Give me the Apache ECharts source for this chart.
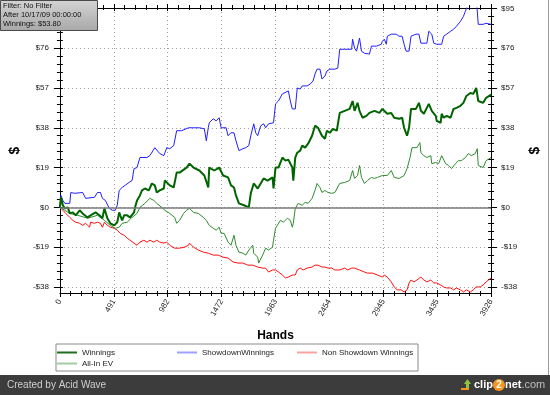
<!DOCTYPE html>
<html><head><meta charset="utf-8">
<script src="https://cdn.jsdelivr.net/npm/echarts@6/dist/echarts.min.js"></script>
<style>html,body{margin:0;padding:0;background:#fff}#c{width:550px;height:395px}</style>
</head><body><div id="c"></div>
<script>
// ---------- data (hands, dollars) ----------
const seriesNames = ['Winnings', 'ShowdownWinnings', 'Non Showdown Winnings', 'All-In EV'];
const xMax = 3926;
const yTickValues = [-38, -19, 0, 19, 38, 57, 76, 95];

const winHands = [0,9,27,45,72,90,117,144,180,207,252,279,297,324,360,387,405,432,459,495,522,540,549,567,585,612,639,675,684,702,729,747,774,810,837,864,882,909,946,955,973,1000,1036,1063,1090,1153,1180,1216,1270,1315,1351,1360,1405,1450,1486,1531,1558,1585,1603,1630,1675,1720,1738,1765,1801,1828,1855,1891,1936,1945,1963,1990,2026,2053,2080,2116,2125,2143,2161,2188,2206,2233,2260,2296,2323,2350,2386,2413,2431,2458,2485,2521,2548,2593,2638,2665,2683,2710,2728,2755,2791,2818,2864,2909,2936,2954,2981,3017,3044,3089,3116,3134,3161,3179,3197,3242,3269,3287,3314,3359,3377,3386,3422,3431,3467,3476,3494,3521,3557,3584,3611,3647,3674,3701,3737,3764,3791,3809,3827,3854,3881,3926];
const winValues = [0,4.8,1.0,-0.5,0,-2.9,-2.4,-3.8,-1.4,-2.9,-4.8,-3.8,-2.9,-2.4,-3.8,-5.2,-0.5,-5.2,-7.6,-8.6,-7.1,-2.4,-3.8,-6.2,-3.8,-3.8,-4.8,-2.4,0,3.3,5.7,8.1,9.0,8.1,11.4,10.5,7.1,8.1,9.0,12.8,12.8,10.5,9.5,16.6,16.6,19.0,20.9,19.0,17.6,15.2,9.5,19.0,17.6,19.0,15.2,14.3,10.5,9.5,5.7,1.9,1.0,0,6.7,11.4,9.0,11.4,13.8,12.8,14.3,9.0,19.0,19.0,23.8,22.3,22.8,19.0,12.8,23.8,26.1,27.1,29.5,28.5,30.4,34.2,39.0,38.0,34.2,32.8,36.6,35.6,37.5,36.6,45.1,46.1,47.0,50.8,46.1,49.9,46.1,42.8,43.7,45.1,46.1,45.1,47.0,47.0,44.7,45.1,42.8,42.3,42.8,38.0,34.2,38.0,47.0,47.0,49.9,46.1,44.7,49.4,49.9,46.1,43.7,41.3,40.4,44.7,42.8,43.7,42.8,47.0,47.5,48.5,49.9,53.2,54.6,54.2,57.0,50.8,49.9,49.9,52.3,53.8];

const sdHands = [0,9,27,45,90,99,135,207,234,252,315,342,369,387,414,450,477,504,522,540,567,594,630,657,675,702,729,792,819,864,882,909,946,973,1000,1036,1063,1108,1171,1216,1270,1315,1333,1351,1360,1396,1423,1450,1468,1513,1531,1558,1585,1603,1630,1666,1693,1720,1738,1765,1783,1801,1828,1855,1873,1900,1945,1963,1990,2026,2080,2098,2116,2143,2161,2188,2206,2251,2278,2305,2323,2341,2368,2386,2413,2431,2458,2503,2530,2548,2593,2656,2665,2683,2701,2728,2746,2773,2818,2837,2882,2927,2936,2954,2972,2981,3017,3062,3089,3116,3134,3152,3179,3197,3242,3269,3287,3341,3359,3386,3404,3431,3476,3494,3521,3557,3584,3611,3647,3674,3692,3719,3737,3791,3809,3854,3881,3926];
const sdValues = [0,5.7,3.3,1.9,1.9,7.1,6.7,7.1,4.3,4.8,4.8,7.1,7.1,4.3,3.3,-0.5,-1.4,-1.4,1.0,8.1,9.5,10.5,11.9,12.8,18.5,19.0,23.8,23.8,24.7,28.5,28.5,25.7,24.7,28.5,28.0,29.5,36.6,36.6,38.0,38.0,38.0,37.5,31.8,38.0,40.4,42.3,41.3,42.8,38.0,38.0,34.2,35.6,35.6,31.8,27.1,28.0,28.5,29.5,34.2,39.9,35.6,34.2,38.9,39.9,38.0,39.9,40.4,49.4,50.8,54.2,55.6,50.8,47.0,47.0,57.0,56.5,58.0,58.0,58.9,60.3,63.7,66.0,66.0,61.3,62.7,65.1,66.0,66.0,66.5,75.5,75.5,75.5,80.3,76.0,74.6,80.8,74.6,73.6,73.2,77.0,77.0,77.9,79.3,80.3,77.9,81.7,82.7,82.7,81.7,81.7,77.9,74.6,74.6,81.7,82.7,82.7,78.4,78.4,84.1,82.7,78.4,77.9,77.9,81.7,82.7,84.1,85.0,86.5,88.8,91.2,93.6,97.4,100.7,100.7,87.4,87.4,87.9,87.4];

const nsdHands = [0,27,54,90,117,144,180,207,234,270,279,315,342,369,387,405,432,459,495,522,549,585,612,639,675,702,729,765,792,819,855,882,909,946,973,1000,1045,1090,1135,1171,1180,1216,1261,1306,1351,1396,1441,1486,1531,1576,1621,1666,1711,1756,1801,1846,1873,1900,1936,1963,1990,2026,2053,2080,2116,2143,2161,2188,2215,2251,2296,2323,2350,2386,2413,2440,2476,2503,2548,2593,2620,2656,2683,2728,2773,2800,2846,2891,2936,2954,2981,3017,3044,3071,3107,3134,3161,3179,3197,3224,3251,3287,3314,3341,3377,3404,3431,3467,3494,3521,3557,3584,3611,3647,3674,3701,3737,3764,3791,3827,3854,3881,3926];
const nsdValues = [0,-1.4,-2.9,-4.8,-6.2,-7.1,-7.6,-8.6,-7.6,-9.5,-7.1,-7.6,-7.1,-7.6,-9.5,-7.1,-8.6,-9.5,-10.0,-10.9,-12.4,-13.3,-14.7,-15.7,-17.1,-18.1,-16.6,-15.7,-16.6,-15.7,-16.6,-15.7,-16.6,-17.1,-16.6,-18.1,-19.5,-19.5,-19.0,-18.1,-17.1,-19.0,-20.4,-21.4,-21.9,-22.8,-22.8,-23.8,-24.2,-26.1,-26.6,-26.6,-27.6,-27.6,-28.5,-29.0,-29.0,-30.9,-29.9,-29.9,-30.9,-32.3,-33.7,-33.3,-32.3,-32.3,-29.9,-29.0,-29.9,-29.0,-28.5,-27.6,-27.6,-28.5,-28.5,-29.0,-29.0,-29.9,-29.9,-29.0,-29.9,-29.0,-29.0,-29.9,-30.9,-31.4,-31.4,-32.3,-33.3,-32.3,-33.3,-35.6,-38.0,-39.4,-39.4,-40.4,-39.4,-36.1,-34.7,-35.6,-34.7,-33.3,-34.7,-35.6,-34.7,-36.1,-36.1,-37.1,-38.0,-38.5,-38.5,-39.4,-38.5,-39.4,-40.4,-39.4,-40.4,-39.4,-38.0,-38.0,-37.1,-35.6,-33.7];

const evHands = [0,45,90,162,252,342,405,459,504,540,567,612,657,702,729,774,819,855,882,927,955,1000,1045,1063,1090,1126,1153,1180,1216,1261,1306,1333,1360,1396,1423,1450,1468,1495,1531,1558,1585,1603,1630,1666,1693,1720,1756,1765,1801,1810,1846,1873,1900,1936,1945,1963,2008,2035,2071,2098,2116,2125,2143,2170,2206,2233,2260,2296,2323,2341,2368,2386,2413,2440,2476,2503,2548,2593,2638,2665,2683,2710,2728,2746,2773,2800,2837,2864,2891,2936,2981,3017,3044,3089,3134,3161,3188,3206,3251,3278,3287,3314,3341,3377,3386,3422,3449,3476,3512,3539,3566,3602,3629,3656,3692,3719,3746,3782,3800,3809,3854,3881,3926];
const evValues = [0,-1.4,-2.9,-3.8,-5.2,-3.8,-6.2,-8.6,-10.0,-9.5,-7.6,-7.1,-4.8,-2.9,0,1.9,4.3,3.3,1.9,0,-1.4,-2.9,-4.8,-7.6,-6.2,-2.9,-1.4,-0.5,-2.4,-2.9,-4.8,-6.2,-8.6,-10.0,-10.9,-9.5,-12.4,-12.4,-16.6,-18.1,-13.3,-18.1,-21.4,-21.9,-22.8,-20.4,-18.1,-21.9,-23.8,-26.6,-22.8,-19.5,-20.4,-19.0,-15.7,-10.0,-6.2,-7.1,-5.2,-6.2,-9.5,-7.6,-0.5,1.9,1.0,2.4,1.9,4.3,8.1,11.4,9.5,7.1,8.1,7.1,6.7,7.1,11.4,11.9,12.8,17.6,13.8,15.2,20.0,14.3,11.4,12.8,14.3,13.8,14.3,15.2,15.2,17.6,14.3,13.8,15.2,18.5,23.8,28.5,28.5,30.9,26.1,24.7,23.8,24.7,20.9,21.4,20.9,24.7,20.9,20.0,18.5,20.9,22.3,22.3,23.8,25.7,24.7,25.7,28.0,20.0,19.0,22.3,23.8];

// ---------- chart ----------
const FONT = 'Liberation Sans, Arial, sans-serif';
const yMin = -40.9, yMax = 95.2, xInterval = xMax / 8;
const minorStep = 19 / 5;
const yMinor = [];
for (let k = -10; k <= 25; k++) { if (k % 5 !== 0) yMinor.push(+(k * minorStep).toFixed(2)); }
const yAll = yMinor.concat(yTickValues);
const pairs = (h, v) => h.map((x, i) => [x, v[i]]);
const money = v => (v < 0 ? '-$' + Math.abs(v) : '$' + v);

function xAx(pos, inside, main) {
  return {
    type: 'value', min: 0, max: xMax, interval: xInterval, position: pos,
    axisLine: { show: main, onZero: false, lineStyle: { color: '#000', width: 1 } },
    axisTick: { show: true, inside: inside, length: inside ? 3 : 4, lineStyle: { color: '#000' } },
    minorTick: { show: true, splitNumber: 5, length: inside ? 2 : 3, lineStyle: { color: '#000' } },
    splitLine: { show: main && pos === 'bottom', lineStyle: { color: '#9a9a9a', type: [1, 3] } },
    axisLabel: (main && pos === 'bottom') ? {
      show: true, rotate: 60, formatter: v => String(Math.round(v)), fontSize: 8,
      color: '#222', fontFamily: FONT, margin: 7
    } : { show: false },
    name: (main && pos === 'bottom') ? 'Hands' : '',
    nameLocation: 'middle', nameGap: 37,
    nameTextStyle: { fontWeight: 'bold', fontSize: 12, color: '#000', fontFamily: FONT }
  };
}
function yAx(pos, kind) {
  const base = {
    type: 'value', min: yMin, max: yMax, position: pos,
    axisLine: { show: kind === 'main', onZero: false, lineStyle: { color: '#000' } },
    splitLine: { show: false }, axisLabel: { show: false }
  };
  if (kind === 'main') {
    base.axisTick = { show: true, customValues: yTickValues, length: 6, lineStyle: { color: '#000' } };
    base.axisLabel = { show: true, customValues: yTickValues, formatter: money, fontSize: 8,
      color: '#222', fontFamily: FONT, margin: pos === 'left' ? 11 : 10 };
    base.splitLine = { show: pos === 'left', lineStyle: { color: '#9a9a9a', type: [1, 3] } };
    base.name = '$'; base.nameLocation = 'middle'; base.nameGap = pos === 'left' ? 35 : 31;
    base.nameRotate = 90;
    base.nameTextStyle = { fontWeight: 'bold', fontSize: 14, color: '#000', fontFamily: FONT };
  } else if (kind === 'minor') {
    base.axisTick = { show: true, customValues: yMinor, length: 3, lineStyle: { color: '#000' } };
  } else {
    base.axisTick = { show: true, inside: true, customValues: yAll, length: 3, lineStyle: { color: '#000' } };
  }
  return base;
}

const chart = echarts.init(document.getElementById('c'), null, { renderer: 'canvas' });
const lineSeries = (name, h, v, color, width, extra) => Object.assign({
  name: name, type: 'line', data: pairs(h, v), xAxisIndex: 0, yAxisIndex: 0,
  symbol: 'none', showSymbol: false, clip: true, animation: false,
  lineStyle: { color: color, width: width }, itemStyle: { color: color }
}, extra || {});

chart.setOption({
  animation: false,
  backgroundColor: '#fff',
  grid: { left: 57, right: 57, top: 8, bottom: 102, containLabel: false },
  xAxis: [xAx('bottom', false, true), xAx('bottom', true, false), xAx('top', false, true), xAx('top', true, false)],
  yAxis: [yAx('left', 'main'), yAx('left', 'minor'), yAx('left', 'inside'),
          yAx('right', 'main'), yAx('right', 'minor'), yAx('right', 'inside')],
  legend: {
    left: 56, top: 344, width: 362, padding: [3, 1, 2, 1], itemGap: 0,
    borderColor: '#8a8a8a', borderWidth: 1, icon: 'rect', itemWidth: 20, itemHeight: 2,
    textStyle: { fontSize: 8, color: '#222', fontFamily: FONT, width: 95, lineHeight: 11, padding: [0, 0, 0, 0] },
    data: [
      { name: seriesNames[0], itemStyle: { color: '#1f6f1f' } },
      { name: seriesNames[1], itemStyle: { color: '#a0a0ff' } },
      { name: seriesNames[2], itemStyle: { color: '#ffa0a0' } },
      { name: seriesNames[3], itemStyle: { color: '#a0cca0' } }
    ]
  },
  series: [
    lineSeries(seriesNames[1], sdHands, sdValues, '#2020ff', 1, {
      markLine: { silent: true, symbol: ['none', 'none'], label: { show: false },
        lineStyle: { color: '#7a7a7a', width: 1.5, type: 'solid' }, data: [{ yAxis: 0 }], animation: false }
    }),
    lineSeries(seriesNames[2], nsdHands, nsdValues, '#ff1010', 1),
    lineSeries(seriesNames[3], evHands, evValues, '#2e8b2e', 1),
    lineSeries(seriesNames[0], winHands, winValues, '#006400', 2)
  ],
  graphic: [
    { type: 'rect', z: 100, shape: { x: 0.5, y: 0.5, width: 97, height: 30 },
      style: { fill: new echarts.graphic.LinearGradient(0, 0, 0, 1, [{ offset: 0, color: '#d4d4d4' }, { offset: 1, color: '#a8a8a8' }]),
        stroke: '#4a4a4a', lineWidth: 1 } },
    { type: 'text', z: 101, x: 3, y: 2, style: { text: 'Filter: No Filter', font: '7.5px ' + FONT, fill: '#111' } },
    { type: 'text', z: 101, x: 3, y: 11, style: { text: 'After 10/17/09 00:00:00', font: '7.5px ' + FONT, fill: '#111' } },
    { type: 'text', z: 101, x: 3, y: 20, style: { text: 'Winnings: $53.80', font: '7.5px ' + FONT, fill: '#111' } },
    { type: 'line', z: 50, shape: { x1: 548.5, y1: 0, x2: 548.5, y2: 375 }, style: { stroke: '#9a9a9a', lineWidth: 1 } },
    { type: 'rect', z: 50, shape: { x: 0, y: 375, width: 550, height: 20 }, style: { fill: '#3c3c3c' } },
    { type: 'text', z: 51, x: 7, y: 380, style: { text: 'Created by Acid Wave', font: '10px ' + FONT, fill: '#cfcfcf' } },
    { type: 'polygon', z: 51, shape: { points: [[464, 384], [467.5, 379], [471, 384], [469, 384], [469, 388], [466, 388], [466, 384]] },
      style: { fill: '#8cc63f' } },
    { type: 'rect', z: 51, shape: { x: 461, y: 388, width: 8, height: 2 }, style: { fill: '#f7941d' } },
    { type: 'text', z: 51, x: 474, y: 379, style: {
      text: '{a|clip}{b|2}{a|net}{c|.com}',
      rich: {
        a: { font: 'bold 11px ' + FONT, fill: '#ffffff' },
        b: { font: 'bold 10px ' + FONT, fill: '#ffffff', backgroundColor: '#f7941d', borderRadius: 6, width: 12, height: 12, align: 'center' },
        c: { font: '11px ' + FONT, fill: '#bdbdbd' }
      } } }
  ]
});
</script></body></html>
